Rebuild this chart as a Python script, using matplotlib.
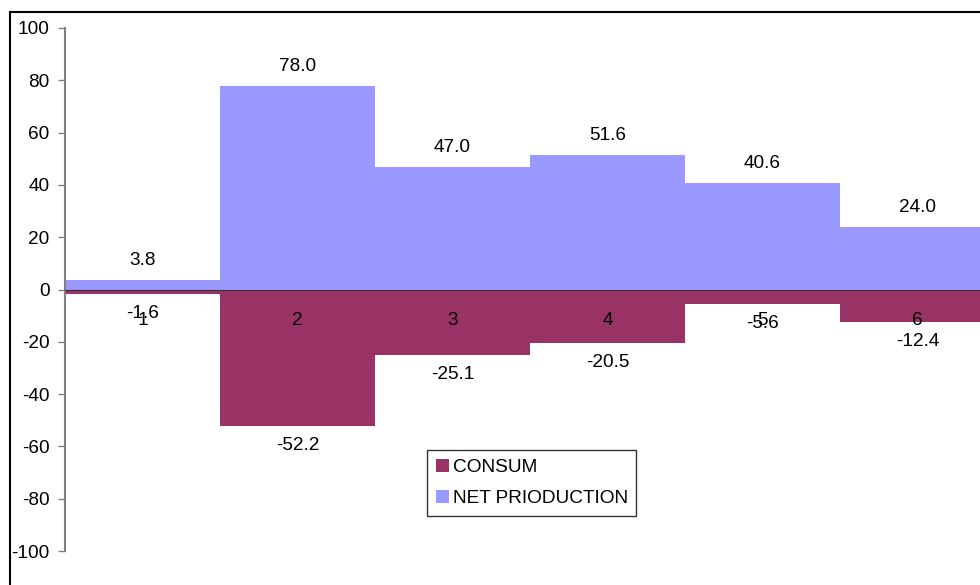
import matplotlib.pyplot as plt
from matplotlib.lines import Line2D

plt.rcParams['font.family'] = ['Liberation Sans', 'DejaVu Sans']

categories = ['1', '2', '3', '4', '5', '6']
consum = [-1.6, -52.2, -25.1, -20.5, -5.6, -12.4]
net_production = [3.8, 78.0, 47.0, 51.6, 40.6, 24.0]
yticks = [-100, -80, -60, -40, -20, 0, 20, 40, 60, 80, 100]

W, H = 980, 585
fig = plt.figure(figsize=(W / 100, H / 100), dpi=100)
# plot area runs past the right edge, like the original sheet
ax = fig.add_axes([65 / W, 1 - 551 / H, 930 / W, 523 / H])

x = list(range(len(categories)))
ax.bar(x, consum, width=1.0, color='#993366', label='CONSUM', zorder=2)
ax.bar(x, net_production, width=1.0, color='#9999FF', label='NET PRIODUCTION', zorder=2)

fs = 13.7
for xi, v in zip(x, net_production):
    ax.annotate(f'{v:.1f}', (xi, v), xytext=(0, 14), textcoords='offset points',
                ha='center', va='center', fontsize=fs, zorder=5)
for xi, v in zip(x, consum):
    ax.annotate(f'{v:.1f}', (xi, v), xytext=(0, -14), textcoords='offset points',
                ha='center', va='center', fontsize=fs, zorder=5)

# category names sit below the zero line, on top of the bars
for xi, c in zip(x, categories):
    ax.annotate(c, (xi, 0), xytext=(0, -22), textcoords='offset points',
                ha='center', va='center', fontsize=fs, zorder=5)

ax.set_xlim(-0.5, len(categories) - 0.5)
ax.set_ylim(-100, 100)
ax.set_yticks(yticks)
ax.set_yticklabels([str(t) for t in yticks], fontsize=fs)
ax.tick_params(axis='y', direction='out', length=5, width=1, color='#808080', pad=6)

# category boundaries get tick marks
ax.set_xticks([i + 0.5 for i in range(len(categories) - 1)])
ax.set_xticklabels([])
ax.tick_params(axis='x', which='major', direction='out', length=4, width=1, color='#303030')

ax.spines['bottom'].set_position(('data', 0))
ax.spines['bottom'].set_color('#303030')
ax.spines['bottom'].set_zorder(3)
ax.spines['left'].set_color('#808080')
ax.spines['left'].set_linewidth(1.5)
ax.spines['top'].set_visible(False)
ax.spines['right'].set_visible(False)

leg = ax.legend(loc='upper left', bbox_to_anchor=((427 - 65) / 930, (551 - 450) / 523),
                fontsize=fs, frameon=True, fancybox=False, edgecolor='black',
                handlelength=0.7, handleheight=0.7, handletextpad=0.2,
                borderpad=0.45, labelspacing=0.75, borderaxespad=0)
leg.get_frame().set_linewidth(1)
leg.set_zorder(6)

# outer chart border (only top and left are inside the image)
fig.add_artist(Line2D([9.5 / W, 9.5 / W], [0, 1 - 11.5 / H], color='black', lw=1.5,
                      transform=fig.transFigure))
fig.add_artist(Line2D([9.5 / W, 1], [1 - 11.5 / H, 1 - 11.5 / H], color='black', lw=1.5,
                      transform=fig.transFigure))

fig.savefig('out.png', dpi=100)
